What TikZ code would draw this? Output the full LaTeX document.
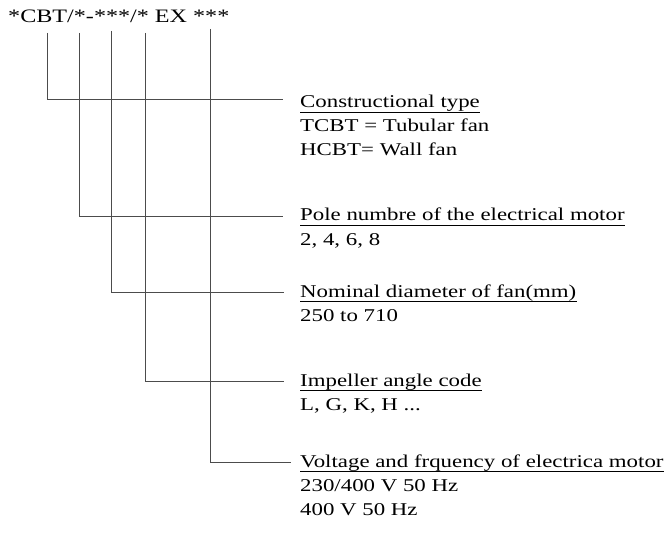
\documentclass[tikz,border=0pt]{standalone}
\usepackage{fontspec}
\setmainfont{Liberation Serif}[FakeStretch=1.27]
\begin{document}
\begin{tikzpicture}[x=1pt,y=-1pt,
  lead/.style={draw=black!70, line width=0.9pt},
  txt/.style={anchor=base west, inner sep=0pt, font=\fontsize{18}{24}\selectfont},
  uline/.style={draw=black, line width=0.8pt}]
\useasboundingbox (0,0) rectangle (671,537);
\node[txt, font=\fontsize{19}{24}\selectfont] (hdr) at (8,23) {*CBT/*-***/* EX ***};
% start points under header
\coordinate (s1) at (47,33);
\coordinate (s2) at (79,33);
\coordinate (s3) at (111,31);
\coordinate (s4) at (145,33);
\coordinate (s5) at (210,29);
% end points
\coordinate (e1) at (283,99);
\coordinate (e2) at (283,216);
\coordinate (e3) at (284,292);
\coordinate (e4) at (284,381);
\coordinate (e5) at (291,462);
\draw[lead] (s1) |- (e1);
\draw[lead] (s2) |- (e2);
\draw[lead] (s3) |- (e3);
\draw[lead] (s4) |- (e4);
\draw[lead] (s5) |- (e5);
% labels
\node[txt] (t1) at (300,108) {Constructional type};
\node[txt] (t1a) at (300,132) {TCBT = Tubular fan};
\node[txt] (t1b) at (300,156) {HCBT= Wall fan};
\node[txt] (t2) at (300,221) {Pole numbre of the electrical motor};
\node[txt] (t2a) at (300,245) {2, 4, 6, 8};
\node[txt] (t3) at (300,297) {Nominal diameter of fan(mm)};
\node[txt] (t3a) at (300,321) {250 to 710};
\node[txt] (t4) at (300,386) {Impeller angle code};
\node[txt] (t4a) at (300,410) {L, G, K, H ...};
\node[txt] (t5) at (300,467) {Voltage and frquency of electrica motor};
\node[txt] (t5a) at (300,491) {230/400 V 50 Hz};
\node[txt] (t5b) at (300,515) {400 V 50 Hz};
\foreach \n in {t1,t2,t3,t4,t5}
  \draw[uline] ([yshift=-4.5pt]\n.base west) -- ([yshift=-4.5pt]\n.base east);
\end{tikzpicture}
\end{document}
